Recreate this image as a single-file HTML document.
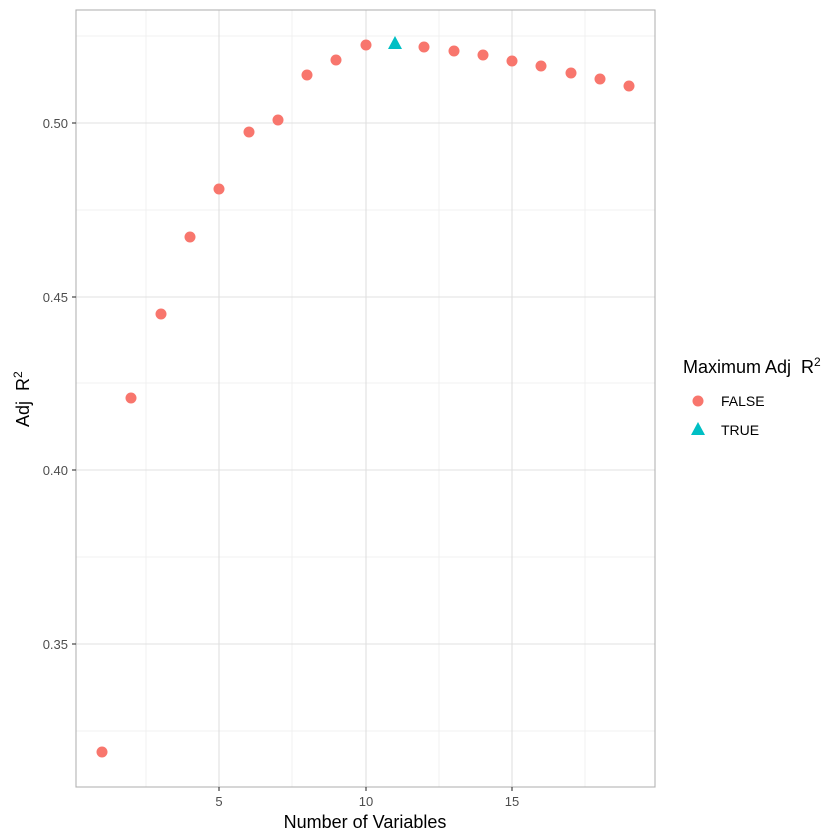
<!DOCTYPE html>
<html><head><style>body{margin:0;background:#fff}svg{display:block}</style></head><body>
<svg width="840" height="840" xmlns="http://www.w3.org/2000/svg" font-family="Liberation Sans, sans-serif">
<rect width="840" height="840" fill="#fff"/>
<g stroke="#f0f0f0" stroke-width="1">
<line x1="146" y1="10" x2="146" y2="787"/><line x1="292" y1="10" x2="292" y2="787"/><line x1="439" y1="10" x2="439" y2="787"/><line x1="585" y1="10" x2="585" y2="787"/>
<line x1="76" y1="36" x2="655" y2="36"/><line x1="76" y1="210" x2="655" y2="210"/><line x1="76" y1="383" x2="655" y2="383"/><line x1="76" y1="557" x2="655" y2="557"/><line x1="76" y1="731" x2="655" y2="731"/>
</g>
<g stroke="#e0e0e0" stroke-width="1.1">
<line x1="219" y1="10" x2="219" y2="787"/><line x1="366" y1="10" x2="366" y2="787"/><line x1="512" y1="10" x2="512" y2="787"/>
<line x1="76" y1="123" x2="655" y2="123"/><line x1="76" y1="297" x2="655" y2="297"/><line x1="76" y1="470" x2="655" y2="470"/><line x1="76" y1="644" x2="655" y2="644"/>
</g>
<rect x="76" y="10" width="579" height="777" fill="none" stroke="#b3b3b3" stroke-width="1.1"/>
<g stroke="#333" stroke-width="1.1">
<line x1="219" y1="787" x2="219" y2="791"/><line x1="366" y1="787" x2="366" y2="791"/><line x1="512" y1="787" x2="512" y2="791"/>
<line x1="72" y1="123" x2="76" y2="123"/><line x1="72" y1="297" x2="76" y2="297"/><line x1="72" y1="470" x2="76" y2="470"/><line x1="72" y1="644" x2="76" y2="644"/>
</g>
<g font-size="13" fill="#4d4d4d" text-anchor="end">
<text x="68" y="128">0.50</text><text x="68" y="302">0.45</text><text x="68" y="475">0.40</text><text x="68" y="649">0.35</text>
</g>
<g font-size="13" fill="#4d4d4d" text-anchor="middle">
<text x="219" y="806">5</text><text x="366" y="806">10</text><text x="512" y="806">15</text>
</g>
<text x="365" y="828" font-size="18" text-anchor="middle" fill="#000">Number of Variables</text>
<text transform="translate(29,427) rotate(-90)" font-size="18" fill="#000">Adj&#160; R<tspan dy="-7" font-size="12">2</tspan></text>
<g fill="#F8766D">
<circle cx="102" cy="752" r="5.5"/><circle cx="131" cy="398" r="5.5"/><circle cx="161" cy="314" r="5.5"/><circle cx="190" cy="237" r="5.5"/><circle cx="219" cy="189" r="5.5"/><circle cx="249" cy="132" r="5.5"/><circle cx="278" cy="120" r="5.5"/><circle cx="307" cy="75" r="5.5"/><circle cx="336" cy="60" r="5.5"/><circle cx="366" cy="45" r="5.5"/>
<circle cx="424" cy="47" r="5.5"/><circle cx="454" cy="51" r="5.5"/><circle cx="483" cy="55" r="5.5"/><circle cx="512" cy="61" r="5.5"/><circle cx="541" cy="66" r="5.5"/><circle cx="571" cy="73" r="5.5"/><circle cx="600" cy="79" r="5.5"/><circle cx="629" cy="86" r="5.5"/>
<circle cx="698" cy="401" r="5.5"/>
</g>
<polygon points="395,36 402,49 388,49" fill="#00BFC4"/>
<polygon points="698,422 705,435 691,435" fill="#00BFC4"/>
<text x="683" y="373" font-size="18" fill="#000">Maximum Adj&#160; R<tspan dy="-7" font-size="12">2</tspan></text>
<text x="721" y="406" font-size="14" fill="#000">FALSE</text>
<text x="721" y="435" font-size="14" fill="#000">TRUE</text>
</svg>
</body></html>
